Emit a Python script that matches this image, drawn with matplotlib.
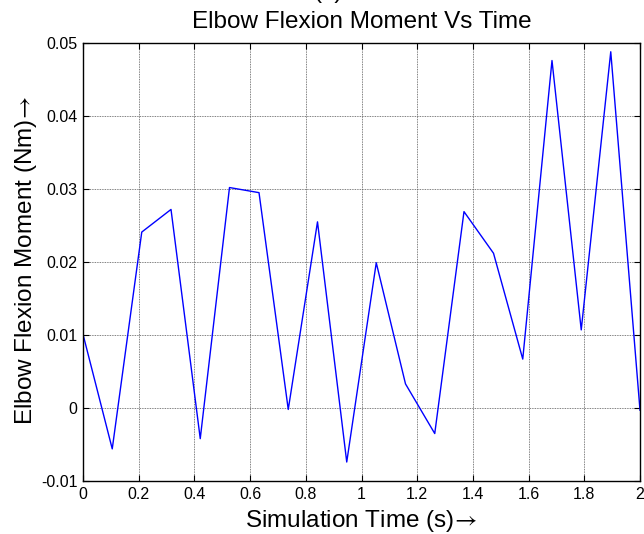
import numpy as np
import matplotlib
matplotlib.use("Agg")
import matplotlib.pyplot as plt

plt.rcParams['font.family'] = ['Liberation Sans', 'DejaVu Sans']
plt.rcParams['mathtext.fontset'] = 'stixsans'

time_s = [0.0, 0.105, 0.211, 0.316, 0.421, 0.526, 0.632, 0.737, 0.842, 0.947,
          1.053, 1.158, 1.263, 1.368, 1.474, 1.579, 1.684, 1.789, 1.895, 2.0]
moment = [0.0101, -0.0056, 0.0241, 0.0272, -0.0042, 0.0302, 0.0295, -0.0002, 0.0255, -0.0074,
          0.0199, 0.0033, -0.0035, 0.0269, 0.0212, 0.0067, 0.0476, 0.0107, 0.0488, -0.0003]
xticks = [0, 0.2, 0.4, 0.6, 0.8, 1, 1.2, 1.4, 1.6, 1.8, 2]
xtick_labels = ['0', '0.2', '0.4', '0.6', '0.8', '1', '1.2', '1.4', '1.6', '1.8', '2']
yticks = [-0.01, 0, 0.01, 0.02, 0.03, 0.04, 0.05]
ytick_labels = ['-0.01', '0', '0.01', '0.02', '0.03', '0.04', '0.05']

W, H = 644, 534
fig = plt.figure(figsize=(W / 100, H / 100), dpi=100)
ax = fig.add_axes([83 / W, 1 - 481 / H, (640 - 83) / W, (481 - 43) / H])

ax.plot(time_s, moment, color='#0000ff', linewidth=1.0)
ax.set_xlim(0, 2)
ax.set_ylim(-0.01, 0.05)
ax.set_xticks(xticks)
ax.set_xticklabels(xtick_labels)
ax.set_yticks(yticks)
ax.set_yticklabels(ytick_labels)
ax.tick_params(direction='in', top=True, right=True, length=4, width=0.8,
               labelsize=11.5)
ax.tick_params(axis='x', pad=4.5)
ax.tick_params(axis='y', pad=4)
ax.grid(True, color='#555555', linestyle=(0, (1, 1)), linewidth=0.6)
for s in ax.spines.values():
    s.set_linewidth(1.0)

fig.text(361.5 / W, 1 - 28 / H, 'Elbow Flexion Moment Vs Time', ha='center', va='baseline', fontsize=17.5)
fig.text(328 / W, 1 + 2 / H, '(a)', ha='center', va='baseline', fontsize=17.5)

ax.set_xlabel(r'Simulation Time (s)$\!\rightarrow$', fontsize=17.5)
ax.xaxis.set_label_coords(0.5, (481 - 527) / 438)
ax.xaxis.label.set_verticalalignment('baseline')

ax.set_ylabel(r'Elbow Flexion Moment (Nm)$\!\rightarrow$', fontsize=17.5)
ax.yaxis.set_label_coords((32 - 83) / 557, (481 - 260) / 438)
ax.yaxis.label.set_verticalalignment('baseline')

fig.savefig('out.png', dpi=100)
